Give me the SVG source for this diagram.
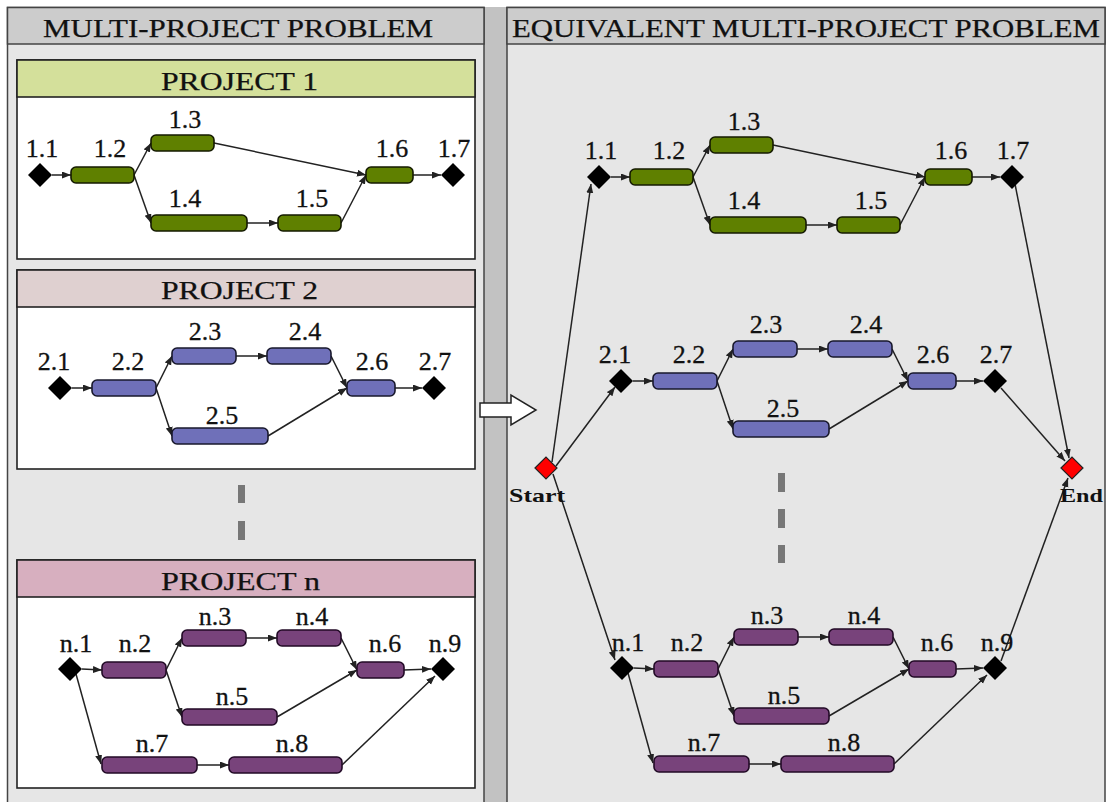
<svg xmlns="http://www.w3.org/2000/svg" width="1107" height="802" viewBox="0 0 1107 802">
  <defs>
    <marker id="ah" markerUnits="userSpaceOnUse" markerWidth="11" markerHeight="9" refX="9" refY="3.5" orient="auto">
      <path d="M0,0 L9,3.5 L0,7 Z" fill="#222"/>
    </marker>
    <style>
      .panel { fill: #e6e6e6; stroke: #444; stroke-width: 1.5; }
      .phead { fill: #cccccc; stroke: #444; stroke-width: 1.5; }
      .box { fill: #ffffff; stroke: #222; stroke-width: 1.6; }
      .h1 { fill: #d4e09b; stroke: #222; stroke-width: 1.6; }
      .h2 { fill: #dfd0d0; stroke: #222; stroke-width: 1.6; }
      .hn { fill: #d7afbf; stroke: #222; stroke-width: 1.6; }
      .g { fill: #5f8000; stroke: #141a00; stroke-width: 1.6; }
      .b { fill: #6f70b9; stroke: #18182c; stroke-width: 1.6; }
      .p { fill: #78437b; stroke: #220a26; stroke-width: 1.6; }
      .dia { fill: #000; }
      .red { fill: #ff0000; stroke: #222; stroke-width: 1.2; }
      .title { font-family: "Liberation Serif", "DejaVu Serif", serif; font-size: 26px; fill: #111; stroke: #111; stroke-width: 0.25; }
      .lbl { font-family: "Liberation Serif", "DejaVu Serif", serif; font-size: 26px; text-anchor: middle; fill: #111; stroke: #111; stroke-width: 0.3; }
      .se { font-family: "Liberation Serif", "DejaVu Serif", serif; font-size: 19px; font-weight: bold; fill: #111; }
      .edge { stroke: #222; stroke-width: 1.5; fill: none; marker-end: url(#ah); }
      .dash { fill: #777; }
    </style>
  </defs>

  <rect x="0" y="0" width="1107" height="802" fill="#ffffff"/>

  <!-- separator strip between the two panels -->
  <rect x="484" y="7" width="23" height="800" fill="#c2c2c2"/>

  <!-- left panel -->
  <g id="left-panel">
    <rect class="panel" x="7.5" y="7.5" width="476.5" height="800"/>
    <rect class="phead" x="7.5" y="7.5" width="476.5" height="36.5"/>
    <text class="title" x="43" y="37" textLength="390" lengthAdjust="spacingAndGlyphs">MULTI-PROJECT PROBLEM</text>
  </g>

  <!-- right panel -->
  <g id="right-panel">
    <rect class="panel" x="507" y="7.5" width="598" height="800"/>
    <rect class="phead" x="507" y="7.5" width="598" height="36.5"/>
    <text class="title" x="512" y="37" textLength="588" lengthAdjust="spacingAndGlyphs">EQUIVALENT MULTI-PROJECT PROBLEM</text>
  </g>

  <!-- transformation arrow -->
  <g id="transform-arrow">
    <polygon points="480,403 511,403 511,395 536,410 511,425 511,417 480,417" fill="#ffffff" stroke="#222" stroke-width="1.5"/>
  </g>

  <!-- project frames -->
  <g id="frame-p1">
    <rect class="box" x="17" y="60" width="458" height="199"/>
    <rect class="h1" x="17" y="60" width="458" height="37"/>
    <text class="title" x="161" y="90" textLength="157" lengthAdjust="spacingAndGlyphs">PROJECT 1</text>
  </g>
  <g id="frame-p2">
    <rect class="box" x="17" y="270" width="458" height="199"/>
    <rect class="h2" x="17" y="270" width="458" height="37"/>
    <text class="title" x="161" y="299" textLength="157" lengthAdjust="spacingAndGlyphs">PROJECT 2</text>
  </g>
  <g id="frame-pn">
    <rect class="box" x="17" y="560" width="458" height="228"/>
    <rect class="hn" x="17" y="560" width="458" height="37"/>
    <text class="title" x="161" y="590" textLength="159" lengthAdjust="spacingAndGlyphs">PROJECT n</text>
  </g>

  <!-- ellipsis dashes -->
  <g id="ellipsis-left">
    <rect class="dash" x="238" y="485" width="7" height="18"/>
    <rect class="dash" x="238" y="521" width="7" height="19"/>
  </g>
  <g id="ellipsis-right">
    <rect class="dash" x="778" y="473" width="7" height="19"/>
    <rect class="dash" x="778" y="509" width="7" height="19"/>
    <rect class="dash" x="778" y="545" width="7" height="18"/>
  </g>

  <!-- ===== connectors ===== -->
  <g id="connectors">
    <g id="edges-p1">
      <path class="edge" d="M52,175 L71,175"/>
      <path class="edge" d="M134,175 L151,143"/>
      <path class="edge" d="M134,175 L151,223"/>
      <path class="edge" d="M214,143 L366,175"/>
      <path class="edge" d="M247,223 L278,223"/>
      <path class="edge" d="M341,223 L366,175"/>
      <path class="edge" d="M413,175 L441,175"/>
    </g>
    <g id="edges-p2">
      <path class="edge" d="M72,388 L92,388"/>
      <path class="edge" d="M156,388 L172,356"/>
      <path class="edge" d="M156,388 L172,436"/>
      <path class="edge" d="M236,356 L267,356"/>
      <path class="edge" d="M331,356 L347,388"/>
      <path class="edge" d="M268,436 L347,388"/>
      <path class="edge" d="M395,388 L422,388"/>
    </g>
    <g id="edges-pn">
      <path class="edge" d="M82,669 L102,670"/>
      <path class="edge" d="M166,670 L182,638"/>
      <path class="edge" d="M166,670 L182,717"/>
      <path class="edge" d="M246,638 L277,638"/>
      <path class="edge" d="M341,638 L357,670"/>
      <path class="edge" d="M277,717 L357,670"/>
      <path class="edge" d="M404,670 L431,669"/>
      <path class="edge" d="M76,674 L101,764"/>
      <path class="edge" d="M197,765 L229,765"/>
      <path class="edge" d="M342,765 L435,676"/>
    </g>
    <g id="edges-e1" transform="translate(559,2)">
      <path class="edge" d="M52,175 L71,175"/>
      <path class="edge" d="M134,175 L151,143"/>
      <path class="edge" d="M134,175 L151,223"/>
      <path class="edge" d="M214,143 L366,175"/>
      <path class="edge" d="M247,223 L278,223"/>
      <path class="edge" d="M341,223 L366,175"/>
      <path class="edge" d="M413,175 L441,175"/>
    </g>
    <g id="edges-e2" transform="translate(561,-7)">
      <path class="edge" d="M72,388 L92,388"/>
      <path class="edge" d="M156,388 L172,356"/>
      <path class="edge" d="M156,388 L172,436"/>
      <path class="edge" d="M236,356 L267,356"/>
      <path class="edge" d="M331,356 L347,388"/>
      <path class="edge" d="M268,436 L347,388"/>
      <path class="edge" d="M395,388 L422,388"/>
    </g>
    <g id="edges-en" transform="translate(552,-1)">
      <path class="edge" d="M82,669 L102,670"/>
      <path class="edge" d="M166,670 L182,638"/>
      <path class="edge" d="M166,670 L182,717"/>
      <path class="edge" d="M246,638 L277,638"/>
      <path class="edge" d="M341,638 L357,670"/>
      <path class="edge" d="M277,717 L357,670"/>
      <path class="edge" d="M404,670 L431,669"/>
      <path class="edge" d="M76,674 L101,764"/>
      <path class="edge" d="M197,765 L229,765"/>
      <path class="edge" d="M342,765 L435,676"/>
    </g>
    <g id="edges-start-end">
      <path class="edge" d="M552,462 L591,184"/>
      <path class="edge" d="M556,466 L615,387"/>
      <path class="edge" d="M553,474 L615,660"/>
      <path class="edge" d="M1015,184 L1069,458"/>
      <path class="edge" d="M1001,388 L1065,461"/>
      <path class="edge" d="M1001,661 L1068,478"/>
    </g>
  </g>

  <!-- ===== project 1 (left) ===== -->
  <g id="p1">
    <g id="p1-1.1"><path class="dia" d="M28,175 L40,163 L52,175 L40,187 Z"/><text class="lbl" x="42" y="157">1.1</text></g>
    <g id="p1-1.2"><rect class="g" x="71" y="167" width="63" height="16" rx="5"/><text class="lbl" x="110" y="157">1.2</text></g>
    <g id="p1-1.3"><rect class="g" x="151" y="135" width="63" height="16" rx="5"/><text class="lbl" x="185" y="128">1.3</text></g>
    <g id="p1-1.4"><rect class="g" x="151" y="215" width="96" height="16" rx="5"/><text class="lbl" x="185" y="207">1.4</text></g>
    <g id="p1-1.5"><rect class="g" x="278" y="215" width="63" height="16" rx="5"/><text class="lbl" x="312" y="207">1.5</text></g>
    <g id="p1-1.6"><rect class="g" x="366" y="167" width="47" height="16" rx="5"/><text class="lbl" x="392" y="157">1.6</text></g>
    <g id="p1-1.7"><path class="dia" d="M441,175 L453,163 L465,175 L453,187 Z"/><text class="lbl" x="454" y="157">1.7</text></g>
  </g>

  <!-- ===== project 2 (left) ===== -->
  <g id="p2">
    <g id="p2-2.1"><path class="dia" d="M48,388 L60,376 L72,388 L60,400 Z"/><text class="lbl" x="54" y="370">2.1</text></g>
    <g id="p2-2.2"><rect class="b" x="92" y="380" width="64" height="16" rx="5"/><text class="lbl" x="128" y="370">2.2</text></g>
    <g id="p2-2.3"><rect class="b" x="172" y="348" width="64" height="16" rx="5"/><text class="lbl" x="205" y="340">2.3</text></g>
    <g id="p2-2.4"><rect class="b" x="267" y="348" width="64" height="16" rx="5"/><text class="lbl" x="305" y="340">2.4</text></g>
    <g id="p2-2.5"><rect class="b" x="172" y="428" width="96" height="16" rx="5"/><text class="lbl" x="222" y="424">2.5</text></g>
    <g id="p2-2.6"><rect class="b" x="347" y="380" width="48" height="16" rx="5"/><text class="lbl" x="372" y="370">2.6</text></g>
    <g id="p2-2.7"><path class="dia" d="M422,388 L434,376 L446,388 L434,400 Z"/><text class="lbl" x="435" y="370">2.7</text></g>
  </g>

  <!-- ===== project n (left) ===== -->
  <g id="pn">
    <g id="pn-n.1"><path class="dia" d="M58,669 L70,657 L82,669 L70,681 Z"/><text class="lbl" x="76" y="652">n.1</text></g>
    <g id="pn-n.2"><rect class="p" x="102" y="662" width="64" height="16" rx="5"/><text class="lbl" x="135" y="652">n.2</text></g>
    <g id="pn-n.3"><rect class="p" x="182" y="630" width="64" height="16" rx="5"/><text class="lbl" x="215" y="625">n.3</text></g>
    <g id="pn-n.4"><rect class="p" x="277" y="630" width="64" height="16" rx="5"/><text class="lbl" x="312" y="625">n.4</text></g>
    <g id="pn-n.5"><rect class="p" x="182" y="709" width="95" height="16" rx="5"/><text class="lbl" x="232" y="705">n.5</text></g>
    <g id="pn-n.6"><rect class="p" x="357" y="662" width="47" height="16" rx="5"/><text class="lbl" x="385" y="652">n.6</text></g>
    <g id="pn-n.7"><rect class="p" x="102" y="757" width="95" height="16" rx="5"/><text class="lbl" x="152" y="752">n.7</text></g>
    <g id="pn-n.8"><rect class="p" x="229" y="757" width="113" height="16" rx="5"/><text class="lbl" x="292" y="752">n.8</text></g>
    <g id="pn-n.9"><path class="dia" d="M431,669 L443,657 L455,669 L443,681 Z"/><text class="lbl" x="445" y="652">n.9</text></g>
  </g>

  <!-- ===== project 1 (merged network) ===== -->
  <g id="e1" transform="translate(559,2)">
    <g id="e1-1.1"><path class="dia" d="M28,175 L40,163 L52,175 L40,187 Z"/><text class="lbl" x="42" y="157">1.1</text></g>
    <g id="e1-1.2"><rect class="g" x="71" y="167" width="63" height="16" rx="5"/><text class="lbl" x="110" y="157">1.2</text></g>
    <g id="e1-1.3"><rect class="g" x="151" y="135" width="63" height="16" rx="5"/><text class="lbl" x="185" y="128">1.3</text></g>
    <g id="e1-1.4"><rect class="g" x="151" y="215" width="96" height="16" rx="5"/><text class="lbl" x="185" y="207">1.4</text></g>
    <g id="e1-1.5"><rect class="g" x="278" y="215" width="63" height="16" rx="5"/><text class="lbl" x="312" y="207">1.5</text></g>
    <g id="e1-1.6"><rect class="g" x="366" y="167" width="47" height="16" rx="5"/><text class="lbl" x="392" y="157">1.6</text></g>
    <g id="e1-1.7"><path class="dia" d="M441,175 L453,163 L465,175 L453,187 Z"/><text class="lbl" x="454" y="157">1.7</text></g>
  </g>

  <!-- ===== project 2 (merged network) ===== -->
  <g id="e2" transform="translate(561,-7)">
    <g id="e2-2.1"><path class="dia" d="M48,388 L60,376 L72,388 L60,400 Z"/><text class="lbl" x="54" y="370">2.1</text></g>
    <g id="e2-2.2"><rect class="b" x="92" y="380" width="64" height="16" rx="5"/><text class="lbl" x="128" y="370">2.2</text></g>
    <g id="e2-2.3"><rect class="b" x="172" y="348" width="64" height="16" rx="5"/><text class="lbl" x="205" y="340">2.3</text></g>
    <g id="e2-2.4"><rect class="b" x="267" y="348" width="64" height="16" rx="5"/><text class="lbl" x="305" y="340">2.4</text></g>
    <g id="e2-2.5"><rect class="b" x="172" y="428" width="96" height="16" rx="5"/><text class="lbl" x="222" y="424">2.5</text></g>
    <g id="e2-2.6"><rect class="b" x="347" y="380" width="48" height="16" rx="5"/><text class="lbl" x="372" y="370">2.6</text></g>
    <g id="e2-2.7"><path class="dia" d="M422,388 L434,376 L446,388 L434,400 Z"/><text class="lbl" x="435" y="370">2.7</text></g>
  </g>

  <!-- ===== project n (merged network) ===== -->
  <g id="en" transform="translate(552,-1)">
    <g id="en-n.1"><path class="dia" d="M58,669 L70,657 L82,669 L70,681 Z"/><text class="lbl" x="76" y="652">n.1</text></g>
    <g id="en-n.2"><rect class="p" x="102" y="662" width="64" height="16" rx="5"/><text class="lbl" x="135" y="652">n.2</text></g>
    <g id="en-n.3"><rect class="p" x="182" y="630" width="64" height="16" rx="5"/><text class="lbl" x="215" y="625">n.3</text></g>
    <g id="en-n.4"><rect class="p" x="277" y="630" width="64" height="16" rx="5"/><text class="lbl" x="312" y="625">n.4</text></g>
    <g id="en-n.5"><rect class="p" x="182" y="709" width="95" height="16" rx="5"/><text class="lbl" x="232" y="705">n.5</text></g>
    <g id="en-n.6"><rect class="p" x="357" y="662" width="47" height="16" rx="5"/><text class="lbl" x="385" y="652">n.6</text></g>
    <g id="en-n.7"><rect class="p" x="102" y="757" width="95" height="16" rx="5"/><text class="lbl" x="152" y="752">n.7</text></g>
    <g id="en-n.8"><rect class="p" x="229" y="757" width="113" height="16" rx="5"/><text class="lbl" x="292" y="752">n.8</text></g>
    <g id="en-n.9"><path class="dia" d="M431,669 L443,657 L455,669 L443,681 Z"/><text class="lbl" x="445" y="652">n.9</text></g>
  </g>

  <!-- start and end milestones -->
  <g id="start">
    <path class="red" d="M535,468 L546,457 L557,468 L546,479 Z"/>
    <text class="se" x="509" y="502" textLength="56" lengthAdjust="spacingAndGlyphs">Start</text>
  </g>
  <g id="end">
    <path class="red" d="M1061,468 L1072,457 L1083,468 L1072,479 Z"/>
    <text class="se" x="1060" y="502" textLength="43" lengthAdjust="spacingAndGlyphs">End</text>
  </g>
</svg>
